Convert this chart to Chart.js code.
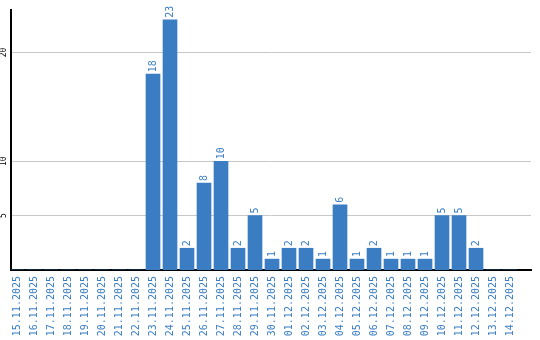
<!DOCTYPE html>
<html>
<head>
<meta charset="utf-8">
<script src="https://cdn.jsdelivr.net/npm/chart.js@4"></script>
<style>
  html, body { margin: 0; padding: 0; background: #fff; }
  #wrap { width: 540px; height: 340px; }
</style>
</head>
<body>
<div id="wrap"><canvas id="chart"></canvas></div>
<script>
// Daily counts, 15.11.2025 - 14.12.2025
const dates = [
    "15.11.2025", "16.11.2025", "17.11.2025", "18.11.2025", "19.11.2025",
    "20.11.2025", "21.11.2025", "22.11.2025", "23.11.2025", "24.11.2025",
    "25.11.2025", "26.11.2025", "27.11.2025", "28.11.2025", "29.11.2025",
    "30.11.2025", "01.12.2025", "02.12.2025", "03.12.2025", "04.12.2025",
    "05.12.2025", "06.12.2025", "07.12.2025", "08.12.2025", "09.12.2025",
    "10.12.2025", "11.12.2025", "12.12.2025", "13.12.2025", "14.12.2025"
];
const counts = [0, 0, 0, 0, 0, 0, 0, 0, 18, 23, 2, 8, 10, 2, 5, 1, 2, 2, 1, 6, 1, 2, 1, 1, 1, 5, 5, 2, 0, 0];
const yTicks = [5, 10, 20];

const blue = "#3a7dc3";
const mono = "'DejaVu Sans Mono', 'Liberation Mono', monospace";

// Rotated text helper
function drawRotated(ctx, text, x, y, align) {
    ctx.save();
    ctx.translate(x, y);
    ctx.rotate(-Math.PI / 2);
    ctx.textAlign = align;
    ctx.fillText(text, 0, 0);
    ctx.restore();
}

// Value labels above bars + rotated y tick labels
const extraLabels = {
    id: "extraLabels",
    afterDatasetsDraw(chart) {
        const ctx = chart.ctx;
        const meta = chart.getDatasetMeta(0);
        ctx.save();
        ctx.textBaseline = "middle";

        ctx.fillStyle = blue;
        ctx.font = "10px " + mono;
        meta.data.forEach((bar, i) => {
            if (!counts[i]) return;
            drawRotated(ctx, String(counts[i]), bar.x, bar.y - 2, "left");
        });

        const yScale = chart.scales.y;
        ctx.fillStyle = "#000";
        ctx.font = "8px " + mono;
        yTicks.forEach(v => {
            drawRotated(ctx, String(v), yScale.left + 4, yScale.getPixelForValue(v), "center");
        });
        ctx.restore();
    }
};

new Chart(document.getElementById("chart"), {
    type: "bar",
    data: {
        datasets: [{
            data: counts.map((v, i) => ({ x: i, y: v })),
            backgroundColor: blue,
            borderWidth: 0,
            barThickness: 14
        }]
    },
    options: {
        responsive: true,
        maintainAspectRatio: false,
        animation: false,
        layout: { padding: { top: 10, right: 9, left: 0, bottom: 0 } },
        plugins: {
            legend: { display: false },
            tooltip: { enabled: false }
        },
        scales: {
            x: {
                type: "linear",
                offset: false,
                min: -0.353,
                max: 30.235,
                afterBuildTicks: scale => { scale.ticks = dates.map((d, i) => ({ value: i })); },
                afterFit: scale => { scale.height = 70; },
                grid: { display: false, drawTicks: false },
                border: { display: true, color: "#000", width: 2 },
                ticks: {
                    autoSkip: false,
                    minRotation: 90,
                    maxRotation: 90,
                    padding: 6,
                    color: blue,
                    font: { family: mono, size: 10 },
                    callback: v => dates[v]
                }
            },
            y: {
                min: 0,
                max: 23.9,
                afterBuildTicks: scale => { scale.ticks = yTicks.map(v => ({ value: v })); },
                afterFit: scale => { scale.width = 11; },
                grid: { color: "#c8c8c8", lineWidth: 1, drawTicks: false },
                border: { display: true, color: "#000", width: 2 },
                ticks: { display: false }
            }
        }
    },
    plugins: [extraLabels]
});
</script>
</body>
</html>
